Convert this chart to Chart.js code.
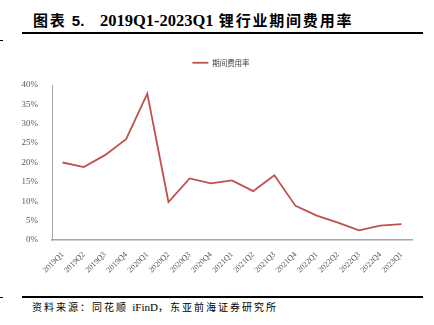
<!DOCTYPE html>
<html>
<head>
<meta charset="utf-8">
<script src="https://cdn.jsdelivr.net/npm/chart.js@4"></script>
<style>
body{margin:0;background:#fff;}
#wrap{position:relative;width:434px;height:325px;overflow:hidden;}
#title{position:absolute;left:33px;top:9px;font-size:15px;font-weight:bold;color:#000;white-space:nowrap;font-family:"Noto Sans CJK SC";letter-spacing:1.8px;}
#title .num{font-family:"Liberation Sans";letter-spacing:0;}
#title .lat{font-family:"Liberation Serif";font-size:16.5px;letter-spacing:0;}
.rule{position:absolute;left:22px;width:401px;height:2px;background:#000;}
.dash{position:absolute;left:0;width:3px;height:1px;background:#000;}
#source{position:absolute;left:32px;top:299px;font-size:10px;color:#000;white-space:nowrap;font-family:"Noto Sans CJK SC";letter-spacing:2px;}
#source .lat{font-family:"Liberation Serif";font-size:11px;letter-spacing:0;}
#c{position:absolute;left:0;top:45px;}
</style>
</head>
<body>
<div id="wrap">
  <div id="title">图表 <span class="num">5.</span>&nbsp;&nbsp;&nbsp;<span class="lat">2019Q1-2023Q1</span> 锂行业期间费用率</div>
  <div class="rule" style="top:32px"></div>
  <div class="dash" style="top:40px"></div>
  <canvas id="c" width="434" height="245"></canvas>
  <div class="rule" style="top:296px"></div>
  <div class="dash" style="top:297px"></div>
  <div id="source">资料来源：同花顺 <span class="lat">iFinD</span>，东亚前海证券研究所</div>
</div>
<script>
//quarters on the x axis
var quarters = ["2019Q1","2019Q2","2019Q3","2019Q4","2020Q1","2020Q2","2020Q3","2020Q4",
    "2021Q1","2021Q2","2021Q3","2021Q4","2022Q1","2022Q2","2022Q3","2022Q4","2023Q1"];
//期间费用率 in %
var expenseRate = [20.0, 18.8, 21.9, 26.0, 37.8, 9.8, 15.9, 14.6, 15.4, 12.6, 16.7, 8.8, 6.3, 4.5, 2.5, 3.7, 4.1];
var seriesName = "期间费用率";

//fixed legend height and a small shift to the right
var legendTweak = {
    id: "legendTweak",
    beforeInit(chart){
        var fit = chart.legend.fit;
        chart.legend.fit = function(){
            fit.bind(this)();
            this.height = 40;
        };
    },
    afterLayout(chart){
        chart.legend.left += 30;
    }
};

var currentChart = new Chart(document.getElementById("c"), {
    type: "line",
    data: {
        labels: quarters,
        datasets: [{
            label: seriesName,
            data: expenseRate,
            borderColor: "#C0504D",
            backgroundColor: "#C0504D",
            borderWidth: 1.8,
            pointRadius: 0,
            tension: 0
        }]
    },
    options: {
        responsive: false,
        animation: false,
        layout: {padding: {left: 0, right: 22, top: 0, bottom: 0}},
        plugins: {
            legend: {
                position: "top",
                labels: {
                    usePointStyle: true,
                    pointStyle: "line",
                    pointStyleWidth: 16,
                    boxHeight: 7,
                    padding: 14,
                    color: "#404040",
                    font: {family: "Noto Sans CJK SC", size: 7.5}
                }
            },
            tooltip: {enabled: false}
        },
        scales: {
            x: {
                offset: true,
                grid: {display: false},
                border: {color: "#a6a6a6", width: 1.5},
                ticks: {
                    minRotation: 45,
                    maxRotation: 45,
                    autoSkip: false,
                    padding: 2,
                    color: "#595959",
                    font: {family: "Liberation Serif", size: 8}
                },
                afterFit(s){ s.height = 50; }
            },
            y: {
                min: 0,
                max: 40,
                grid: {display: false},
                border: {color: "#a6a6a6", width: 1},
                ticks: {
                    stepSize: 5,
                    padding: 6,
                    color: "#595959",
                    font: {family: "Liberation Serif", size: 9},
                    callback: (v) => v + "%"
                },
                afterFit(s){ s.width = 52; }
            }
        }
    },
    plugins: [legendTweak]
});
</script>
</body>
</html>
